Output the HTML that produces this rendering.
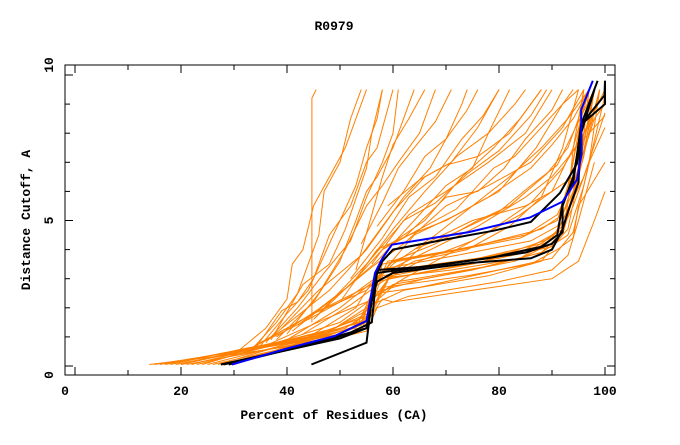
<!DOCTYPE html>
<html><head><meta charset="utf-8"><style>
body{margin:0;background:#fff;}
svg text{font-family:"Liberation Mono",monospace;font-weight:bold;font-size:13px;fill:#000;}
</style></head><body>
<svg id="chart" width="680" height="440" xmlns="http://www.w3.org/2000/svg">
<text x="334" y="30" text-anchor="middle">R0979</text>
<rect x="65" y="65" width="550" height="310" fill="none" stroke="#000" stroke-width="1"/>
<g id="ticks"></g>
<g id="series"></g>
<text x="334" y="419" text-anchor="middle">Percent of Residues (CA)</text>
<text transform="translate(30,220) rotate(-90)" text-anchor="middle">Distance Cutoff, A</text>
</svg>
<script>
const xTicks=[0,20,40,60,80,100];
const yTicks=[0,5,10];
const orangeSeries=[
[[14,0.05],[30,0.4],[45,0.8],[55,1.3],[56,2.3],[60,2.8],[75,3.3],[88,3.9],[92,4.6],[94,6],[97,8.5],[98,9.5]],
[[16,0.05],[30,0.5],[42,0.9],[54,1.5],[57,2.9],[65,3.2],[80,3.7],[90,4.1],[93,4.7],[95,6.5],[99,9.5]],
[[18,0.05],[32,0.6],[44,1.0],[55,1.7],[58,3.1],[70,3.5],[85,4.0],[91,4.6],[94,5.8],[96,8],[97,9.5]],
[[20,0.05],[35,0.7],[48,1.2],[55,1.9],[57,3.0],[68,3.4],[82,3.9],[90,4.4],[92,5.0],[96,6.5],[100,8.7]],
[[21,0.05],[33,0.45],[46,0.9],[54,1.2],[56,2.1],[62,2.6],[78,3.1],[88,3.6],[92,4.5],[95,6.5],[97,9.5]],
[[23,0.05],[36,0.65],[47,1.1],[55,1.6],[57,3.3],[72,3.8],[86,4.3],[91,4.8],[94,6],[98,9.5]],
[[24,0.05],[38,0.8],[50,1.5],[56,2.3],[58,3.5],[70,3.9],[84,4.4],[91,5.0],[93,6.2],[95,8],[96,9.5]],
[[25,0.05],[40,0.75],[51,1.3],[56,1.9],[59,3.0],[75,3.5],[87,4.1],[92,4.7],[94,5.5],[97,7],[100,8.2]],
[[26,0.05],[37,0.5],[48,0.9],[55,1.2],[57,2.0],[63,2.4],[80,2.9],[90,3.3],[93,3.8],[95,5],[98,7]],
[[28,0.05],[41,0.7],[52,1.3],[56,1.8],[60,3.3],[76,3.7],[88,4.2],[92,4.8],[94,5.9],[97,8.2],[99,9.5]],
[[17,0.05],[28,0.45],[40,0.8],[53,1.3],[56,2.5],[66,3.0],[83,3.6],[91,4.3],[93,5.3],[96,7.2],[98,9.5]],
[[19,0.05],[34,0.6],[47,1.0],[55,1.5],[58,2.7],[74,3.1],[86,3.5],[91,4.0],[94,4.4],[95,5.5],[100,7]],
[[22,0.05],[36,0.7],[49,1.3],[55,2.0],[59,3.6],[72,4.0],[85,4.5],[91,5.2],[93,6.0],[96,9],[97,9.5]],
[[30,0.05],[43,0.8],[53,1.5],[56,2.1],[61,2.9],[77,3.4],[88,3.9],[93,4.5],[96,6.2],[100,9.3]],
[[27,0.05],[39,0.7],[50,1.1],[55,1.5],[58,2.3],[60,2.2],[75,2.6],[90,3.0],[95,3.6],[98,5],[100,6]],
[[15,0.05],[29,0.45],[43,0.85],[54,1.4],[57,3.0],[71,3.3],[84,3.7],[92,4.6],[93,5.6],[94,7.5],[96,9.5]],
[[32,0.2],[44,0.9],[54,1.7],[57,2.5],[65,2.7],[80,3.3],[90,3.7],[94,4.6],[97,7],[99,9.5]],
[[20,0.05],[35,0.65],[45,1.1],[53,2.0],[55,2.6],[60,3.6],[75,4.1],[88,4.7],[92,5.2],[95,6.8],[98,8.5]],
[[33,0.5],[38,1.5],[42,2.5],[44,3.5],[46,4.5],[47,6],[50,7],[52,8.5],[54,9.5]],
[[30,0.4],[36,1.3],[40,2.3],[41,3.5],[43,4.0],[45,5.5],[48,6.5],[51,7.5],[55,9.5]],
[[44.7,1.5],[44.7,9.2],[45.5,9.5]],
[[35,0.7],[40,1.8],[44,2.6],[47,3.8],[50,5.0],[53,6.2],[55,7.5],[57,8.5],[58,9.5]],
[[36,0.8],[42,2.0],[47,3.2],[52,4.3],[55,5.8],[58,7.0],[60,8.0],[61,9.5]],
[[34,0.6],[39,1.9],[42,2.2],[45,3.0],[48,4.5],[52,5.5],[55,7.0],[57,7.5],[60,9.5]],
[[38,0.9],[45,2.2],[50,3.6],[53,5.0],[55,6.0],[57,6.5],[60,7.5],[62,8.5],[64,9.5]],
[[40,1.1],[46,2.5],[51,4.0],[55,5.5],[58,6.2],[61,7.0],[65,8.0],[67,9.0],[68,9.5]],
[[37,0.9],[43,2.8],[48,3.5],[51,4.7],[55,6.8],[56,8.0],[58,9.5]],
[[35,0.8],[45,1.8],[55,2.6],[60,3.5],[68,4.5],[75,5.5],[82,6.5],[88,7.5],[93,8.5],[97,9.5]],
[[38,1.0],[48,2.2],[56,3.4],[62,4.2],[70,5.5],[78,6.2],[86,7.0],[92,8.2],[96,9.5]],
[[40,0.9],[50,2.0],[57,3.0],[64,4.5],[72,5.2],[80,6.0],[87,7.5],[92,9.0],[94,9.5]],
[[42,1.4],[52,2.8],[58,4.0],[66,5.0],[73,6.5],[79,7.5],[84,8.5],[88,9.5]],
[[36,0.7],[47,1.6],[55,2.2],[62,3.0],[70,3.8],[78,4.6],[86,5.6],[92,6.8],[96,8.0],[100,9.5]],
[[45,1.6],[53,3.0],[60,4.7],[66,6.0],[72,7.2],[78,8.0],[83,9.0],[85,9.5]],
[[39,1.3],[46,2.6],[54,3.8],[60,5.3],[66,6.5],[71,7.0],[76,8.2],[80,9.5]],
[[33,0.6],[44,1.6],[52,2.4],[58,3.2],[66,3.9],[76,4.8],[85,5.8],[90,6.5],[95,7.6],[100,8.6]],
[[41,1.2],[50,2.5],[57,3.6],[64,5.0],[70,6.2],[75,6.8],[78,8.0],[82,9.5]],
[[43,1.1],[52,2.1],[58,2.9],[65,3.6],[75,4.3],[84,5.2],[90,6.0],[94,7.5],[97,9.5]],
[[37,1.0],[48,2.6],[55,4.0],[62,5.8],[67,6.8],[70,7.8],[73,9.0],[74,9.5]],
[[46,1.8],[55,3.5],[63,5.2],[70,6.0],[78,7.0],[85,8.0],[90,9.5]],
[[34,0.7],[45,1.8],[56,2.8],[64,3.6],[74,4.0],[82,4.8],[88,5.8],[92,7.5],[95,9.5]],
[[50,2.2],[57,4.0],[63,4.5],[70,5.0],[78,5.8],[86,6.8],[90,7.6],[94,8.5],[97,9.5]],
[[55,2.0],[60,3.2],[66,4.2],[75,5.0],[85,5.5],[90,6.0],[94,6.5],[96,8.0],[100,9.0]],
[[52,3.0],[58,4.4],[63,5.8],[68,6.5],[73,7.8],[77,8.6],[80,9.5]],
[[56,3.5],[62,5.0],[68,5.6],[74,6.6],[80,7.4],[86,8.6],[89,9.5]],
[[54,4.2],[58,5.6],[61,6.8],[64,7.5],[68,8.4],[71,9.5]],
[[58,4.0],[66,4.8],[72,5.4],[79,6.8],[83,7.2],[88,8.2],[92,9.0],[95,9.5]],
[[60,3.6],[68,4.2],[76,5.0],[82,5.5],[89,6.6],[93,7.5],[96,9.0]],
[[57,4.8],[62,6.0],[66,7.2],[70,7.8],[74,8.8],[76,9.5]],
[[62,4.4],[70,5.8],[76,6.0],[81,6.8],[85,7.8],[90,8.8],[92,9.5]],
[[53,3.3],[56,5.2],[58,6.5],[60,7.6],[63,8.5],[66,9.5]],
[[64,4.0],[72,4.6],[80,5.3],[86,6.2],[91,6.9],[95,8.4],[98,9.5]],
[[59,5.5],[65,6.4],[70,6.9],[76,7.2],[82,8.0],[86,9.0],[88,9.5]]
];
const blackSeries=[
[[27.5,0.05],[40,0.55],[50,0.95],[55,1.3],[56,2.4],[57,3.2],[70,3.5],[85,3.9],[90,4.2],[92,4.6],[92,5.5],[94,6.5],[95.5,8],[98,9.5]],
[[29,0.05],[42,0.65],[52,1.15],[56,1.5],[57,3.3],[65,3.4],[78,3.7],[88,4.1],[91,4.5],[92,5.6],[94,6.3],[95.5,8.3],[99.9,9.3],[100,9.8]],
[[44.6,0.05],[55,0.8],[56,2.3],[57,2.9],[60,3.2],[75,3.55],[86,3.7],[90,4.0],[92,4.7],[93,5.3],[95,6.3],[95.5,8.3],[100,9.0],[100,9.8]],
[[28,0.05],[45,0.75],[55,1.3],[57,3.2],[58,3.6],[60,4.0],[70,4.35],[79,4.65],[86,4.95],[91.5,5.95],[94.7,6.95],[95.6,8.35],[98.6,9.8]]
];
const blueSeries=[[29.6,0.05],[40,0.6],[49,1.03],[55,1.55],[56.6,3.2],[58,3.7],[59.8,4.17],[74.3,4.6],[85.8,5.1],[92,5.65],[94.7,6.4],[95.6,7.3],[95.5,8.8],[97.7,9.8]];

const NS='http://www.w3.org/2000/svg';
function X(p){return 75+5.3*p;}
function Y(d){return 366-29.1*d;}
const tg=document.getElementById('ticks');
const sg=document.getElementById('series');
function mk(tag,attrs,parent){const e=document.createElementNS(NS,tag);for(const k in attrs)e.setAttribute(k,attrs[k]);parent.appendChild(e);return e;}
for(let v=0;v<=100;v+=10){
  const len=(v%20===0)?8:5;
  const t1=mk('line',{x1:X(v),x2:X(v),y1:375,y2:375-len,stroke:'#000'},tg);
  
  
  const t2=mk('line',{x1:X(v),x2:X(v),y1:65,y2:65+len,stroke:'#000'},tg);
  
  
}
for(let v=0;v<=10;v+=1){
  const len=(v%5===0)?8:5;
  const t1=mk('line',{x1:65,x2:65+len,y1:Y(v),y2:Y(v),stroke:'#000'},tg);
  
  
  const t2=mk('line',{x1:615,x2:615-len,y1:Y(v),y2:Y(v),stroke:'#000'},tg);
  
  
}
xTicks.forEach(v=>{
  const tx=(v===0)?65:X(v);
  const t=mk('text',{x:tx,y:395,'text-anchor':'middle'},tg);
  t.textContent=String(v);
  
  
});
yTicks.forEach(v=>{
  const ty=(v===0)?375:(v===10?65:Y(v));
  const t=mk('text',{transform:'translate(53,'+ty+') rotate(-90)','text-anchor':'middle'},tg);
  t.textContent=String(v);
  
  
});
function pts(s){return s.map(q=>X(q[0]).toFixed(1)+','+Y(q[1]).toFixed(1)).join(' ');}
orangeSeries.forEach(s=>{
  const l=mk('polyline',{points:pts(s),fill:'none',stroke:'#ff8000','stroke-width':1},sg);
  
  
});
blackSeries.forEach(s=>{
  const l=mk('polyline',{points:pts(s),fill:'none',stroke:'#000','stroke-width':2},sg);
  
  
});
const b=mk('polyline',{points:pts(blueSeries),fill:'none',stroke:'#0000ff','stroke-width':2},sg);


</script>
</body></html>
